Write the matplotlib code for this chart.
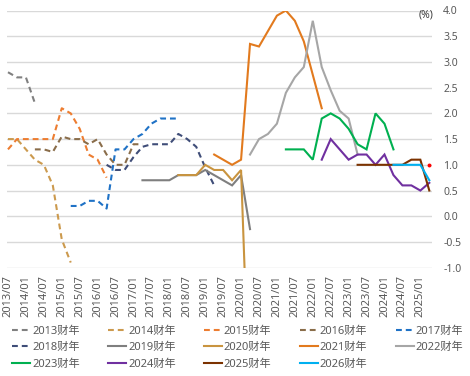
import matplotlib
matplotlib.use('Agg')
import matplotlib.pyplot as plt
import pandas as pd

plt.rcParams['font.family'] = ['Noto Sans', 'Noto Sans CJK SC', 'DejaVu Sans']

# ---------------- data ----------------
quarters = [f"{p.year}/{(p.quarter - 1) * 3 + 1:02d}"
            for p in pd.period_range('2013Q3', '2025Q2', freq='Q')]
tick_labels = ['2013/07', '2014/01', '2014/07', '2015/01', '2015/07', '2016/01',
               '2016/07', '2017/01', '2017/07', '2018/01', '2018/07', '2019/01',
               '2019/07', '2020/01', '2020/07', '2021/01', '2021/07', '2022/01',
               '2022/07', '2023/01', '2023/07', '2024/01', '2024/07', '2025/01']

fy2013_start = '2013/07'; fy2013 = [2.8, 2.7, 2.7, 2.2]
fy2014_start = '2013/07'; fy2014 = [1.5, 1.5, 1.3, 1.1, 1.0, 0.6, -0.45, -0.9]
fy2015_start = '2013/07'; fy2015 = [1.3, 1.5, 1.5, 1.5, 1.5, 1.5, 2.1, 2.0, 1.7, 1.2, 1.1, 0.75]
fy2016_start = '2014/04'; fy2016 = [1.3, 1.3, 1.25, 1.55, 1.5, 1.5, 1.4, 1.5, 1.2, 1.0, 1.0, 1.4, 1.4]
fy2017_start = '2015/04'; fy2017 = [0.2, 0.2, 0.3, 0.3, 0.15, 1.3, 1.3, 1.5, 1.6, 1.8, 1.9, 1.9, 1.9]
fy2018_start = '2016/04'; fy2018 = [1.0, 0.9, 0.9, 1.15, 1.35, 1.4, 1.4, 1.4, 1.6, 1.5, 1.35, 0.95, 0.6]
fy2019_start = '2017/04'; fy2019 = [0.7, 0.7, 0.7, 0.7, 0.8, 0.8, 0.8, 0.9, 0.8, 0.7, 0.6, 0.8, -0.25]
fy2020_start = '2018/04'; fy2020 = [0.8, 0.8, 0.8, 1.0, 0.9, 0.9, 0.7, 0.9, -4.0]
fy2021_start = '2019/04'; fy2021 = [1.2, 1.1, 1.0, 1.1, 3.35, 3.3, 3.6, 3.9, 4.0, 3.8, 3.4, 2.75, 2.1]
fy2022_start = '2020/04'; fy2022 = [1.2, 1.5, 1.6, 1.8, 2.4, 2.7, 2.9, 3.8, 2.9, 2.45, 2.05, 1.9, 1.2]
fy2023_start = '2021/04'; fy2023 = [1.3, 1.3, 1.3, 1.1, 1.9, 2.0, 1.9, 1.7, 1.4, 1.3, 2.0, 1.8, 1.3]
fy2024_start = '2022/04'; fy2024 = [1.1, 1.5, 1.3, 1.1, 1.2, 1.2, 1.0, 1.2, 0.8, 0.6, 0.6, 0.5, 0.65]
fy2025_start = '2023/04'; fy2025 = [1.0, 1.0, 1.0, 1.0, 1.0, 1.0, 1.1, 1.1, 0.5]
fy2026_start = '2024/04'; fy2026 = [1.0, 1.0, 1.0, 1.0, 0.7]

red_point_quarter = '2025/04'; red_point_value = 1.0

series_names = ['2013财年', '2014财年', '2015财年', '2016财年', '2017财年', '2018财年', '2019财年',
                '2020财年', '2021财年', '2022财年', '2023财年', '2024财年', '2025财年', '2026财年']
series_starts = [fy2013_start, fy2014_start, fy2015_start, fy2016_start, fy2017_start,
                 fy2018_start, fy2019_start, fy2020_start, fy2021_start, fy2022_start,
                 fy2023_start, fy2024_start, fy2025_start, fy2026_start]
series_values = [fy2013, fy2014, fy2015, fy2016, fy2017, fy2018, fy2019, fy2020,
                 fy2021, fy2022, fy2023, fy2024, fy2025, fy2026]

# ---------------- styles ----------------
colors = ['#808080', '#cc9a4e', '#ed7d31', '#8a6d4a', '#1f72c6', '#3f4d78', '#7f7f7f',
          '#c9943f', '#e27a1e', '#a6a6a6', '#00b050', '#7030a0', '#7b3200', '#00b0f0']
dashed = [True] * 6 + [False] * 8

W, H = 470, 376
fig = plt.figure(figsize=(W / 100, H / 100), dpi=100)
ax_left, ax_right, ax_top, ax_bottom = 7, 432, 10.5, 267.7
ax = fig.add_axes([ax_left / W, 1 - ax_bottom / H, (ax_right - ax_left) / W,
                   (ax_bottom - ax_top) / H])

handles = []
for name, start, vals, c, d in zip(series_names, series_starts, series_values, colors, dashed):
    i0 = quarters.index(start)
    xs = list(range(i0, i0 + len(vals)))
    if d:
        ln, = ax.plot(xs, vals, color=c, lw=1.5, dashes=(2.8, 1.9), label=name,
                      solid_capstyle='butt', dash_capstyle='butt')
    else:
        ln, = ax.plot(xs, vals, color=c, lw=1.5, label=name, solid_joinstyle='miter')
    handles.append(ln)

ax.plot([quarters.index(red_point_quarter)], [red_point_value], 'o', color='#ff0000',
        ms=2.8, mec='none', zorder=20)

ax.set_xlim(-0.11, 47.3)
ax.set_ylim(-1.0, 4.0)
ax.set_yticks([-1.0, -0.5, 0.0, 0.5, 1.0, 1.5, 2.0, 2.5, 3.0, 3.5, 4.0])
ax.set_yticklabels([f"{v:.1f}" for v in ax.get_yticks()])
ax.yaxis.tick_right()
ax.tick_params(axis='y', length=0, pad=8, labelsize=7.5, labelcolor='#595959')
ax.set_xticks([quarters.index(t) for t in tick_labels])
ax.set_xticklabels(tick_labels, rotation=90)
ax.tick_params(axis='x', length=0, pad=5, labelsize=8, labelcolor='#595959')
ax.grid(axis='y', color='#d9d9d9', lw=1.0)
ax.set_axisbelow(True)
for s in ax.spines.values():
    s.set_visible(False)

fig.text(426 / W, 1 - 15 / H, '(%)', ha='center', va='center', fontsize=7.5, color='#404040')

# legend row-major order
order = [0, 5, 10, 1, 6, 11, 2, 7, 12, 3, 8, 13, 4, 9]
leg = fig.legend([handles[i] for i in order], [series_names[i] for i in order],
                 ncol=5, loc='upper left', bbox_to_anchor=(12 / W, 1 - 325.5 / H),
                 frameon=False, fontsize=8.0, handlelength=1.6, handletextpad=0.2,
                 columnspacing=2.55, labelspacing=0.5, borderpad=0, borderaxespad=0)
for t in leg.get_texts():
    t.set_color('#595959')

fig.savefig('out.png', dpi=100)
